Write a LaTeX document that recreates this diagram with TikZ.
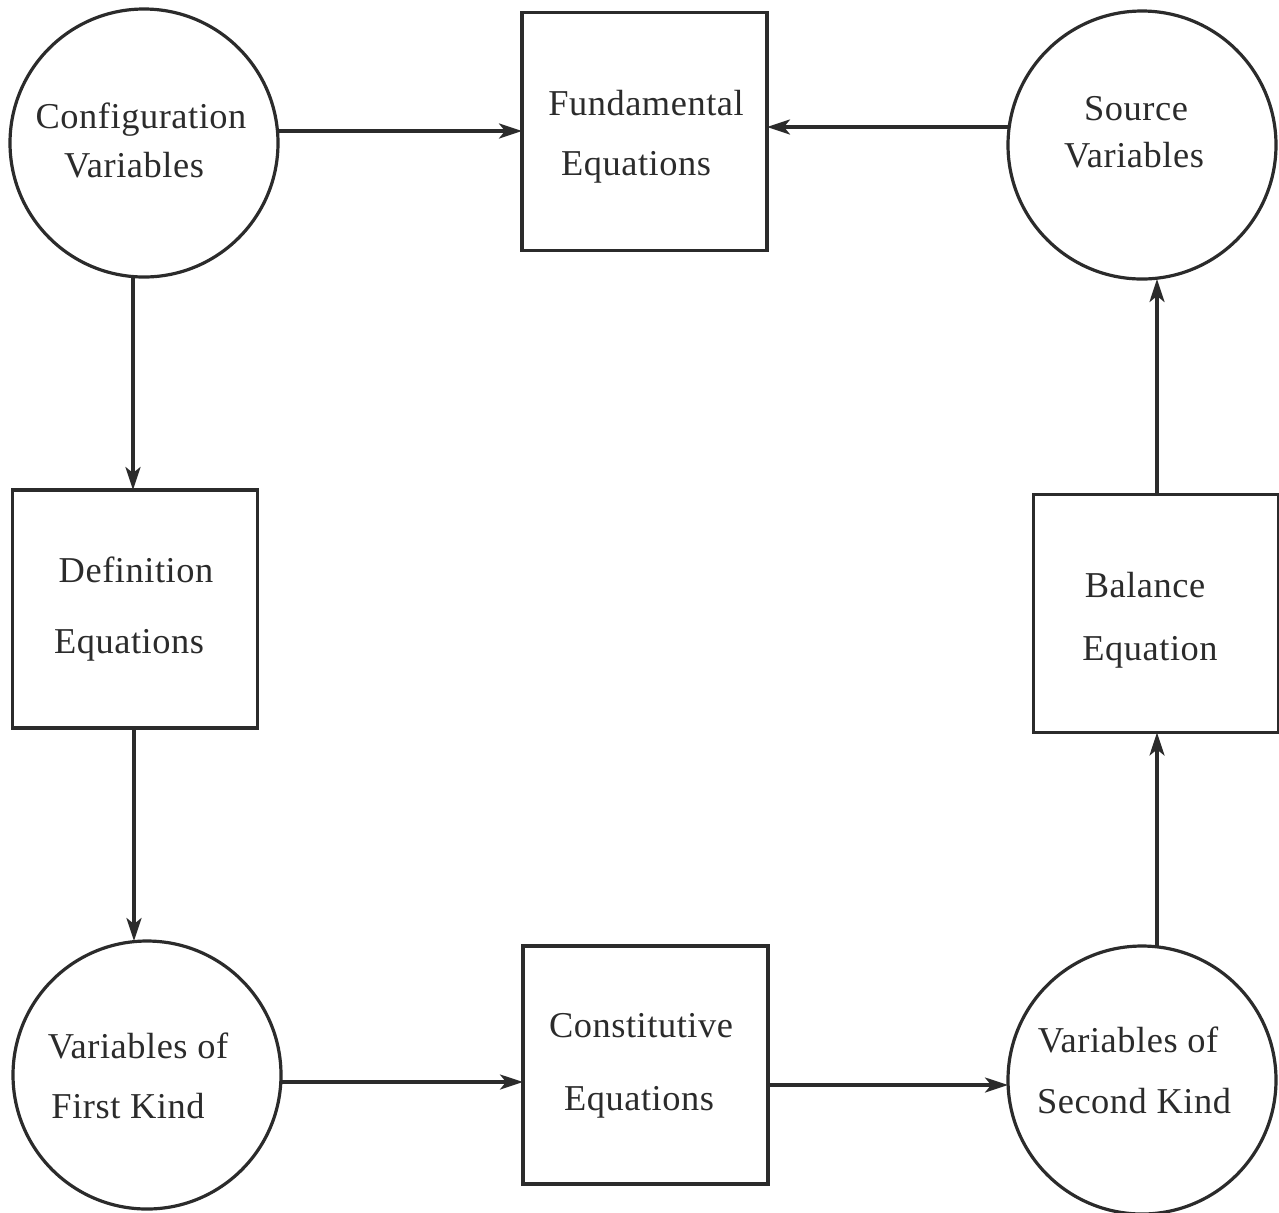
\documentclass[tikz,border=0pt]{standalone}
\usepackage{fontspec}
\setmainfont{Liberation Serif}[LetterSpace=1.5]
\usetikzlibrary{arrows.meta}
\definecolor{ink}{HTML}{2B2B2B}
\begin{document}
\begin{tikzpicture}[x=0.5pt,y=-0.5pt,
  every node/.style={inner sep=0pt,outer sep=0pt},
  varcircle/.style={circle,draw=ink,line width=1.6pt,minimum size=134pt},
  eqbox/.style={rectangle,draw=ink,line width=1.9pt,minimum width=122.5pt,minimum height=119pt},
  lbl/.style={anchor=base,text=ink,font=\fontsize{18.2}{21}\selectfont},
  arr/.style={draw=ink,line width=1.6pt,-{Stealth[length=11.5pt,width=7.5pt,inset=3pt]}}]
\useasboundingbox (0,0) rectangle (1279,1212);

% variable circles
\node[varcircle] (cfg)    at (144,143)  {};
\node[varcircle] (src)    at (1142,145) {};
\node[varcircle] (first)  at (147,1075) {};
\node[varcircle] (second) at (1142,1080) {};

% equation boxes
\node[eqbox] (fund)  at (644.5,131.5) {};
\node[eqbox] (def)   at (135,609)     {};
\node[eqbox] (bal)   at (1156,613.5)  {};
\node[eqbox] (const) at (645.5,1065)  {};

% labels, one line per node
\node[lbl] (cfgA)    at (141,128)   {Configuration};
\node[lbl] (cfgB)    at (134,177)   {Variables};
\node[lbl] (srcA)    at (1136,120)  {Source};
\node[lbl] (srcB)    at (1134,167)  {Variables};
\node[lbl] (fundA)   at (646,115)   {Fundamental};
\node[lbl] (fundB)   at (636,175)   {Equations};
\node[lbl] (defA)    at (136,582)   {Definition};
\node[lbl] (defB)    at (129,653)   {Equations};
\node[lbl] (balA)    at (1145,597)  {Balance};
\node[lbl] (balB)    at (1150,660)  {Equation};
\node[lbl] (firstA)  at (138,1058)  {Variables of};
\node[lbl] (firstB)  at (128,1118)  {First Kind};
\node[lbl] (constA)  at (641,1037)  {Constitutive};
\node[lbl] (constB)  at (639,1110)  {Equations};
\node[lbl] (secondA) at (1128,1052) {Variables of};
\node[lbl] (secondB) at (1134,1113) {Second Kind};

% connectors
\draw[arr] (cfg.east |- 0,131) -- (fund.west |- 0,131);
\draw[arr] (src.west |- 0,127) -- (fund.east |- 0,127);
\draw[arr] (cfg.south -| 133,0) -- (def.north -| 133,0);
\draw[arr] (def.south -| 134,0) -- (first.north -| 134,0);
\draw[arr] (first.east |- 0,1082) -- (const.west |- 0,1082);
\draw[arr] (const.east |- 0,1085) -- (second.west |- 0,1085);
\draw[arr] (second.north -| 1157,0) -- (bal.south -| 1157,0);
\draw[arr] (bal.north -| 1157,0) -- (src.south -| 1157,0);
\end{tikzpicture}
\end{document}
